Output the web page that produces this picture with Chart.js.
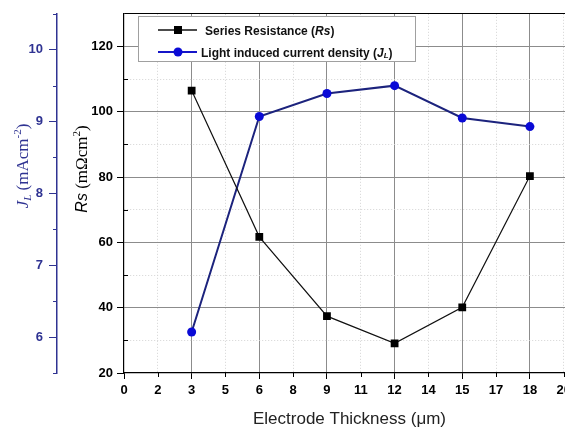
<!DOCTYPE html>
<html>
<head>
<meta charset="utf-8">
<script src="https://cdn.jsdelivr.net/npm/chart.js@4.4.1/dist/chart.umd.min.js"></script>
<style>
  html, body { margin: 0; padding: 0; background: #fff; overflow: hidden; }
  #wrap { width: 590px; height: 428px; }
</style>
</head>
<body>
<div id="wrap"><canvas id="chart" width="590" height="428"></canvas></div>
<script>
var thickness = [3, 6, 9, 12, 15, 18];
var seriesResistance = [106.5, 61.7, 37.4, 29.1, 40.1, 80.3];
var currentDensity = [6.07, 9.07, 9.39, 9.50, 9.05, 8.93];
var xTickValues = [0, 1.5, 3, 4.5, 6, 7.5, 9, 10.5, 12, 13.5, 15, 16.5, 18, 19.5];
var xTickLabels = ['0', '2', '3', '5', '6', '8', '9', '11', '12', '14', '15', '17', '18', '20'];
var rsTickLabels = [20, 40, 60, 80, 100, 120];
var jlTickLabels = [6, 7, 8, 9, 10];

var BLUE_AXIS = '#2f3392';
var BLUE_LINE = '#1c237d';
var BLUE_DOT = '#0a0ad6';
var GRID_MAJOR = '#8c8c8c';
var GRID_MINOR = '#d4d4d4';
var SANS = '"Liberation Sans", Arial, sans-serif';
var SERIF = '"Liberation Serif", "Times New Roman", serif';

function isMajorX(v) { return Math.abs(v / 3 - Math.round(v / 3)) < 1e-6; }
function isMajorRs(v) { return v % 20 === 0; }
function isMajorJl(v) { return Math.abs(v - Math.round(v)) < 1e-6; }

// draw a row of text pieces with their own fonts (italics, sub/superscripts)
function drawRuns(ctx, runs, x, y, angle, centered) {
  ctx.save();
  ctx.translate(x, y);
  ctx.rotate(angle);
  ctx.textBaseline = 'alphabetic';
  ctx.textAlign = 'left';
  var total = 0;
  runs.forEach(function(r) { ctx.font = r.font; r.w = ctx.measureText(r.text).width; total += r.w; });
  var cx = centered ? -total / 2 : 0;
  runs.forEach(function(r) {
    ctx.font = r.font;
    ctx.fillStyle = r.color;
    ctx.fillText(r.text, cx, r.dy || 0);
    cx += r.w;
  });
  ctx.restore();
}

var extras = {
  id: 'extras',
  afterDraw: function(chart) {
    var ctx = chart.ctx;
    var xs = chart.scales.x, rs = chart.scales.rs, jl = chart.scales.jl;
    var area = chart.chartArea;

    // short minor ticks
    ctx.save();
    ctx.lineWidth = 1;
    ctx.strokeStyle = '#000';
    xTickValues.forEach(function(v) {
      if (isMajorX(v)) return;
      var px = Math.round(xs.getPixelForValue(v)) + 0.5;
      ctx.beginPath(); ctx.moveTo(px, area.bottom); ctx.lineTo(px, area.bottom + 4); ctx.stroke();
    });
    rs.ticks.forEach(function(t) {
      if (isMajorRs(t.value) || t.value >= rs.max) return;
      var py = Math.round(rs.getPixelForValue(t.value)) + 0.5;
      ctx.beginPath(); ctx.moveTo(area.left, py); ctx.lineTo(area.left + 4, py); ctx.stroke();
    });
    ctx.strokeStyle = BLUE_AXIS;
    jl.ticks.forEach(function(t) {
      if (isMajorJl(t.value)) return;
      var py = Math.round(jl.getPixelForValue(t.value)) + 0.5;
      ctx.beginPath(); ctx.moveTo(jl.right - 4, py); ctx.lineTo(jl.right, py); ctx.stroke();
    });
    ctx.restore();

    // axis titles
    var t17 = '17px ' + SERIF, t11 = '11px ' + SERIF;
    drawRuns(ctx, [
      { text: 'J', font: 'italic ' + t17, color: BLUE_AXIS },
      { text: 'L', font: 'italic ' + t11, color: BLUE_AXIS, dy: 3 },
      { text: ' (mAcm', font: t17, color: BLUE_AXIS },
      { text: '-2', font: t11, color: BLUE_AXIS, dy: -7 },
      { text: ')', font: t17, color: BLUE_AXIS }
    ], 28, 166, -Math.PI / 2, true);
    drawRuns(ctx, [
      { text: 'Rs', font: 'italic 16px ' + SANS, color: '#000' },
      { text: ' (m\u03A9cm', font: t17, color: '#000' },
      { text: '2', font: t11, color: '#000', dy: -7 },
      { text: ')', font: t17, color: '#000' }
    ], 87, 169, -Math.PI / 2, true);

    // legend box inside the plot
    var ds = chart.data.datasets;
    ctx.save();
    ctx.fillStyle = '#fff';
    ctx.fillRect(138.5, 16.5, 277, 45);
    ctx.strokeStyle = '#a0a0a0';
    ctx.lineWidth = 1;
    ctx.strokeRect(138.5, 16.5, 277, 45);

    ctx.strokeStyle = ds[0].borderColor; ctx.lineWidth = 1.3;
    ctx.beginPath(); ctx.moveTo(158, 30); ctx.lineTo(197, 30); ctx.stroke();
    ctx.fillStyle = ds[0].pointBackgroundColor;
    ctx.fillRect(174, 26, 8, 8);

    ctx.strokeStyle = '#1515c8'; ctx.lineWidth = 2;
    ctx.beginPath(); ctx.moveTo(158, 52); ctx.lineTo(197, 52); ctx.stroke();
    ctx.fillStyle = ds[1].pointBackgroundColor;
    ctx.beginPath(); ctx.arc(178, 52, 4.5, 0, Math.PI * 2); ctx.fill();
    ctx.restore();

    var b12 = 'bold 12px ' + SANS;
    drawRuns(ctx, [
      { text: 'Series Resistance (', font: b12, color: '#111' },
      { text: 'Rs', font: 'italic ' + b12, color: '#111' },
      { text: ')', font: b12, color: '#111' }
    ], 205, 34.5, 0, false);
    drawRuns(ctx, [
      { text: 'Light induced current density (', font: b12, color: '#111' },
      { text: 'J', font: 'italic ' + b12, color: '#111' },
      { text: 'L', font: 'italic bold 8px ' + SANS, color: '#111', dy: 1 },
      { text: ')', font: b12, color: '#111' }
    ], 201, 56.5, 0, false);
  }
};

new Chart(document.getElementById('chart'), {
  type: 'line',
  data: {
    datasets: [
      {
        label: 'Series Resistance (Rs)',
        data: thickness.map(function(x, i) { return { x: x, y: seriesResistance[i] }; }),
        yAxisID: 'rs',
        borderColor: '#111',
        borderWidth: 1.2,
        pointStyle: 'rect',
        pointRadius: 5.5,
        pointBackgroundColor: '#000',
        pointBorderColor: '#000',
        pointBorderWidth: 0,
        tension: 0
      },
      {
        label: 'Light induced current density (JL)',
        data: thickness.map(function(x, i) { return { x: x, y: currentDensity[i] }; }),
        yAxisID: 'jl',
        borderColor: BLUE_LINE,
        borderWidth: 2,
        pointStyle: 'circle',
        pointRadius: 4.5,
        pointBackgroundColor: BLUE_DOT,
        pointBorderColor: BLUE_DOT,
        pointBorderWidth: 0,
        tension: 0
      }
    ]
  },
  options: {
    responsive: false, animation: false, devicePixelRatio: 1,
    layout: { padding: { top: 12, right: 15, left: 0, bottom: 0 } },
    plugins: { legend: { display: false }, tooltip: { enabled: false } },
    scales: {
      x: {
        type: 'linear', min: 0, max: 20,
        afterBuildTicks: function(s) { s.ticks = xTickValues.map(function(v) { return { value: v }; }); },
        afterFit: function(s) { s.height = 55; },
        ticks: {
          autoSkip: false, maxRotation: 0, padding: 4, color: '#000',
          font: { family: SANS, size: 13, weight: 'bold' },
          callback: function(v, i) { return xTickLabels[i]; }
        },
        grid: {
          lineWidth: 1, tickLength: 6,
          color: function(c) { return c.tick.value === 0 ? 'transparent' : (isMajorX(c.tick.value) ? GRID_MAJOR : GRID_MINOR); },
          tickColor: function(c) { return isMajorX(c.tick.value) ? '#000' : 'transparent'; }
        },
        border: {
          color: '#000', width: 1.2,
          dash: function(c) { return c.tick && !isMajorX(c.tick.value) ? [1, 2] : []; }
        },
        title: {
          display: true, text: 'Electrode Thickness (\u03BCm)', color: '#222',
          font: { family: SANS, size: 17, lineHeight: 1 }, padding: { top: 0, bottom: 0 }
        }
      },
      rs: {
        position: 'left', weight: 0, min: 20, max: 130,
        afterFit: function(s) { s.width = 67; },
        ticks: {
          stepSize: 10, autoSkip: false, padding: 4, color: '#000',
          font: { family: SANS, size: 13, weight: 'bold' },
          callback: function(v) { return rsTickLabels.indexOf(v) >= 0 ? String(v) : ''; }
        },
        grid: {
          lineWidth: 1, tickLength: 7,
          color: function(c) {
            var v = c.tick.value;
            if (v === 20) return 'transparent';
            if (v === 130) return '#000';
            return isMajorRs(v) ? GRID_MAJOR : GRID_MINOR;
          },
          tickColor: function(c) { return isMajorRs(c.tick.value) ? '#000' : 'transparent'; }
        },
        border: {
          color: '#000', width: 1.2,
          dash: function(c) { return c.tick && !isMajorRs(c.tick.value) && c.tick.value !== 130 ? [1, 2] : []; }
        }
      },
      jl: {
        position: 'left', weight: 1, min: 5.5, max: 10.5,
        afterFit: function(s) { s.width = 57; },
        ticks: {
          stepSize: 0.5, autoSkip: false, padding: 6, color: BLUE_AXIS,
          font: { family: SANS, size: 13, weight: 'bold' },
          callback: function(v) { return jlTickLabels.indexOf(v) >= 0 ? String(v) : ''; }
        },
        grid: {
          drawOnChartArea: false, tickLength: 8,
          tickColor: function(c) { return isMajorJl(c.tick.value) ? BLUE_AXIS : 'transparent'; }
        },
        border: { color: BLUE_AXIS, width: 1.5 }
      }
    }
  },
  plugins: [extras]
});
</script>
</body>
</html>
